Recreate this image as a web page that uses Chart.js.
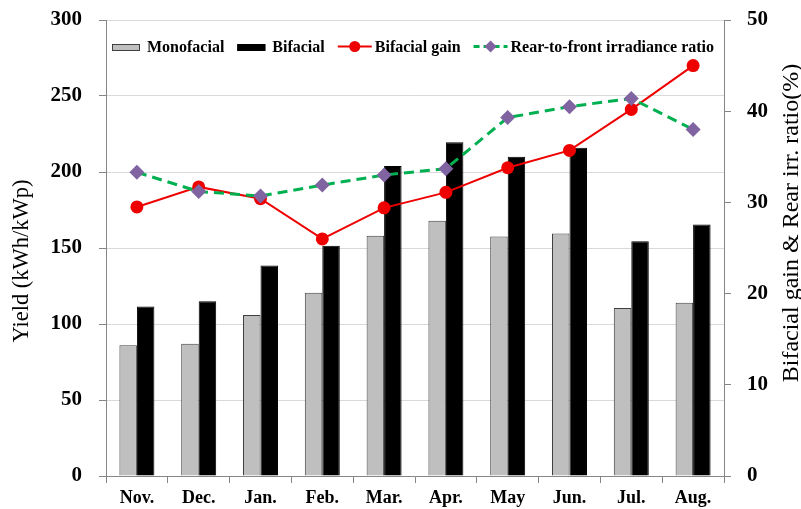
<!DOCTYPE html>
<html>
<head>
<meta charset="utf-8">
<script src="https://cdn.jsdelivr.net/npm/chart.js@4.4.1/dist/chart.umd.min.js"></script>
<style>
  html, body { margin: 0; padding: 0; background: #ffffff; }
  #wrap { width: 801px; height: 509px; }
</style>
</head>
<body>
<div id="wrap"><canvas id="c" width="801" height="509"></canvas></div>
<script>
// ---- data ----
const categories = ['Nov.', 'Dec.', 'Jan.', 'Feb.', 'Mar.', 'Apr.', 'May', 'Jun.', 'Jul.', 'Aug.'];
const monofacial = [86, 87, 106, 120.5, 158, 168, 157.5, 159.5, 110.5, 114];
const bifacial = [111.5, 115, 138.5, 151.5, 204, 219.5, 210, 216, 154.5, 165.5];
const bifacialGain = [29.5, 31.7, 30.4, 26.0, 29.4, 31.1, 33.8, 35.7, 40.2, 45.0];
const rearRatio = [33.3, 31.2, 30.7, 31.9, 33.0, 33.7, 39.3, 40.5, 41.4, 38.0];
const yLeftTicks = [0, 50, 100, 150, 200, 250, 300];
const yRightTicks = [0, 10, 20, 30, 40, 50];
const seriesNames = ['Monofacial', 'Bifacial', 'Bifacial gain', 'Rear-to-front irradiance ratio'];
const leftTitle = 'Yield (kWh/kWp)';
const rightTitle = 'Bifacial gain & Rear irr. ratio(%)';

const SERIF = "'Liberation Serif', 'Times New Roman', serif";
const AXIS = '#868686';

function zeroPad(s) { s.paddingTop = 0; s.paddingBottom = 0; s.paddingLeft = 0; s.paddingRight = 0; }

// custom legend + rotated axis titles
const decorations = {
  id: 'decorations',
  afterDraw(chart) {
    const ctx = chart.ctx;
    ctx.save();
    ctx.fillStyle = '#000';
    ctx.textAlign = 'center';
    ctx.textBaseline = 'middle';
    ctx.font = '22.5px ' + SERIF;
    ctx.save(); ctx.translate(22.5, 261); ctx.rotate(-Math.PI / 2); ctx.fillText(leftTitle, 0, 0); ctx.restore();
    ctx.font = '24px ' + SERIF;
    ctx.save(); ctx.translate(792, 223); ctx.rotate(-Math.PI / 2); ctx.fillText(rightTitle, 0, 0); ctx.restore();

    // legend
    ctx.font = 'bold 16px ' + SERIF;
    ctx.textAlign = 'left';
    ctx.textBaseline = 'alphabetic';
    let x = 112;
    const base = 51.5;
    const lineY = 46.5;
    chart.data.datasets.forEach((ds) => {
      if (ds.type === 'line') {
        ctx.save();
        ctx.strokeStyle = ds.borderColor;
        ctx.lineWidth = ds.borderWidth;
        ctx.setLineDash(ds.borderDash ? [6, 4] : []);
        ctx.beginPath(); ctx.moveTo(x, lineY); ctx.lineTo(x + 34, lineY); ctx.stroke();
        ctx.setLineDash([]);
        ctx.fillStyle = ds.pointBackgroundColor;
        const cx = x + 17;
        ctx.beginPath();
        if (ds.pointStyle === 'rectRot') {
          const r = 6;
          ctx.moveTo(cx, lineY - r); ctx.lineTo(cx + r, lineY); ctx.lineTo(cx, lineY + r); ctx.lineTo(cx - r, lineY); ctx.closePath();
        } else {
          ctx.arc(cx, lineY, 5.5, 0, Math.PI * 2);
        }
        ctx.fill();
        ctx.restore();
        x += 37;
      } else {
        ctx.fillStyle = ds.backgroundColor;
        ctx.fillRect(x, 44, 28, 7);
        ctx.strokeStyle = ds.borderColor;
        ctx.lineWidth = 1;
        ctx.strokeRect(x + 0.5, 44.5, 27, 6);
        x += 35;
      }
      ctx.fillStyle = '#000';
      ctx.fillText(ds.label, x, base);
      x += ctx.measureText(ds.label).width + 13;
    });
    ctx.restore();
  }
};

new Chart(document.getElementById('c'), {
  type: 'bar',
  data: {
    labels: categories,
    datasets: [
      {
        type: 'bar', label: seriesNames[0], data: monofacial, yAxisID: 'y',
        backgroundColor: '#bfbfbf', borderColor: '#404040', borderWidth: 1,
        categoryPercentage: 0.566, barPercentage: 1.0, order: 3
      },
      {
        type: 'bar', label: seriesNames[1], data: bifacial, yAxisID: 'y',
        backgroundColor: '#000000', borderColor: '#000000', borderWidth: 1,
        categoryPercentage: 0.566, barPercentage: 1.0, order: 4
      },
      {
        type: 'line', label: seriesNames[2], data: bifacialGain, yAxisID: 'y2',
        borderColor: '#ee0000', borderWidth: 2, tension: 0, fill: false,
        pointStyle: 'circle', pointRadius: 6.5, pointBackgroundColor: '#ee0000',
        pointBorderColor: '#ee0000', pointBorderWidth: 0, order: 2
      },
      {
        type: 'line', label: seriesNames[3], data: rearRatio, yAxisID: 'y2',
        borderColor: '#00b050', borderWidth: 3, borderDash: [10, 6], tension: 0, fill: false,
        pointStyle: 'rectRot', pointRadius: 7.5, pointBackgroundColor: '#8064a2',
        pointBorderColor: '#8064a2', pointBorderWidth: 0, order: 1
      }
    ]
  },
  options: {
    responsive: false,
    animation: false,
    devicePixelRatio: 1,
    layout: { padding: { top: 20, left: 0, right: 0, bottom: 0 } },
    plugins: { legend: { display: false }, tooltip: { enabled: false }, title: { display: false } },
    scales: {
      x: {
        type: 'category',
        offset: true,
        grid: { offset: true, drawOnChartArea: false, drawTicks: true, tickLength: 7, color: AXIS, tickColor: AXIS },
        border: { color: AXIS, width: 1 },
        ticks: { color: '#000', font: { family: SERIF, weight: 'bold', size: 18 }, padding: 5, maxRotation: 0, autoSkip: false },
        afterFit(s) { s.height = 33; zeroPad(s); }
      },
      y: {
        position: 'left',
        min: 0, max: 300,
        afterBuildTicks(s) { s.ticks = yLeftTicks.map(v => ({ value: v })); },
        grid: { color: '#d9d9d9', tickColor: AXIS, tickLength: 7, lineWidth: 1 },
        border: { color: AXIS, width: 1 },
        ticks: { color: '#000', font: { family: SERIF, weight: 'bold', size: 21 }, padding: 17 },
        afterFit(s) { s.width = 106; zeroPad(s); }
      },
      y2: {
        position: 'right',
        min: 0, max: 50,
        afterBuildTicks(s) { s.ticks = yRightTicks.map(v => ({ value: v })); },
        grid: { drawOnChartArea: false, tickColor: AXIS, tickLength: 7 },
        border: { color: AXIS, width: 1 },
        ticks: { color: '#000', font: { family: SERIF, weight: 'bold', size: 21 }, padding: 16 },
        afterFit(s) { s.width = 77; zeroPad(s); }
      }
    }
  },
  plugins: [decorations]
});
</script>
</body>
</html>
